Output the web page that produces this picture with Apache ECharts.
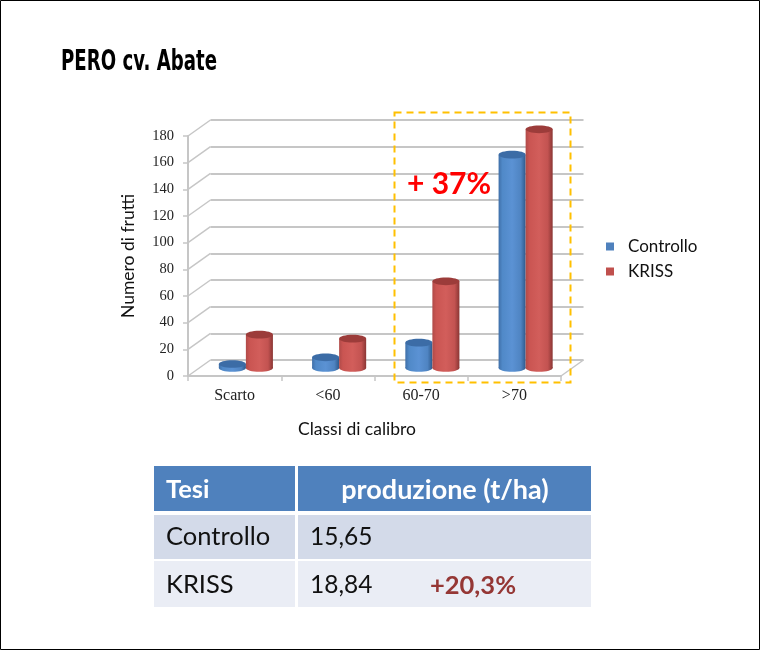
<!DOCTYPE html>
<html>
<head>
<meta charset="utf-8">
<style>html,body{margin:0;padding:0;background:#fff}#c{width:760px;height:650px}</style>
<script src="https://cdn.jsdelivr.net/npm/echarts@6/dist/echarts.min.js"></script>
</head>
<body>
<div id="c"></div>
<script>
const categories = ['Scarto', '<60', '60-70', '>70'];
const controllo = [3, 8, 19, 160];
const kriss = [25, 22, 65, 179];
const yTicks = [0, 20, 40, 60, 80, 100, 120, 140, 160, 180];
const seriesNames = ['Controllo', 'KRISS'];
const tableHeader = ['Tesi', 'produzione (t/ha)'];
const tableTesi = ['Controllo', 'KRISS'];
const tableProduzione = ['15,65', '18,84'];
const tableDelta = '+20,3%';
const highlight = '+ 37%';
const title = 'PERO cv. Abate';

const BODY = 'Lato, "Open Sans", sans-serif';
const GRID = '#c6c6c6';
const DX = 22.5, DY = -16;

const blueBody = {type:'linear',x:0,y:0,x2:1,y2:0,colorStops:[
  {offset:0,color:'#3f6fa8'},{offset:.14,color:'#5089c8'},{offset:.5,color:'#5b92d4'},
  {offset:.82,color:'#4f84c2'},{offset:1,color:'#2f5a8c'}]};
const redBody = {type:'linear',x:0,y:0,x2:1,y2:0,colorStops:[
  {offset:0,color:'#b04a48'},{offset:.14,color:'#ca5552'},{offset:.5,color:'#d25e5b'},
  {offset:.82,color:'#c35351'},{offset:1,color:'#8a3634'}]};

function cylinder(side, body, top) {
  return function (params, api) {
    const i = api.value(0), v = api.value(1);
    const p = api.coord([i, v]), base = api.coord([i, 0]);
    const w = api.size([1, 0])[0] * 0.29;
    const cx = p[0] + DX / 2 + side * w / 2;
    const yT = p[1] + DY / 2, yB = base[1] + DY / 2;
    const rx = w / 2, ry = 3.8;
    return {type:'group', children:[
      {type:'ellipse', shape:{cx:cx, cy:yB, rx:rx, ry:ry}, style:{fill:body}},
      {type:'rect', shape:{x:cx-rx, y:yT, width:w, height:yB-yT}, style:{fill:body}},
      {type:'ellipse', shape:{cx:cx, cy:yT, rx:rx, ry:ry}, style:{fill:top}}
    ]};
  };
}

function wallDiagonals(params, api) {
  const v = api.value(0);
  const cs = params.coordSys;
  const y = api.coord([0, v])[1];
  const x = cs.x;
  const children = [{type:'line', shape:{x1:x, y1:y, x2:x+DX, y2:y+DY}, style:{stroke:GRID, lineWidth:1.5}}];
  if (v === 0) children.push({type:'line', shape:{x1:x+cs.width, y1:y, x2:x+cs.width+DX, y2:y+DY}, style:{stroke:GRID, lineWidth:1.5}});
  return {type:'group', children};
}

const graphics = [];
const rect = (x,y,w,h,fill) => graphics.push({type:'rect', shape:{x,y,width:w,height:h}, style:{fill}, z:1});
const label = (x,y,text,size,fill,weight,align) => graphics.push({type:'text', x, y, z:2,
  style:{text, fill, font:(weight||'normal')+' '+size+'px '+BODY, textAlign:align||'left', textVerticalAlign:'middle'}});

// page frame
graphics.push({type:'rect', shape:{x:.5,y:.5,width:759,height:649}, style:{fill:'none',stroke:'#000',lineWidth:1}, z:5});
// title
graphics.push({type:'text', x:61, y:63, z:2, scaleX:0.66, style:{text:title, fill:'#000',
  font:'bold 27.5px "DejaVu Sans", sans-serif', textVerticalAlign:'middle'}});
// dashed highlight box
graphics.push({type:'rect', shape:{x:394.5,y:112.5,width:176,height:270}, z:4,
  style:{fill:'none', stroke:'#ffc000', lineWidth:2, lineDash:[7,5]}});
graphics.push({type:'text', x:407, y:184, z:4, style:{text:highlight, fill:'#ff0000',
  font:'bold 30px '+BODY, textVerticalAlign:'middle'}});
// table
rect(154,466,141,45,'#4f81bd'); rect(298,466,293,45,'#4f81bd');
rect(154,515,141,44,'#d3dae9'); rect(298,515,293,44,'#d3dae9');
rect(154,561,141,46,'#eaedf5'); rect(298,561,293,46,'#eaedf5');
label(166,490,tableHeader[0],25.5,'#fff','bold');
label(445,490,tableHeader[1],27,'#fff','bold','center');
tableTesi.forEach((t,i)=>{ const y=[537,585][i];
  label(166,y,t,25.5,'#111'); label(310,y,tableProduzione[i],24.5,'#111'); });
label(430,586,tableDelta,25.5,'#953735','bold');

const chart = echarts.init(document.getElementById('c'), null, {renderer:'canvas'});
chart.setOption({
  animation:false,
  backgroundColor:'#fff',
  legend:{orient:'vertical', left:601, top:233, itemWidth:8, itemHeight:8, itemGap:8, icon:'rect',
    data:seriesNames, textStyle:{fontFamily:BODY, fontSize:17, color:'#111', padding:[0,0,0,9]}},
  grid:[
    {left:188, top:136, width:373, height:240},
    {left:188+DX, top:136+DY, width:373, height:240}
  ],
  xAxis:[
    {type:'category', gridIndex:0, data:categories,
     axisLine:{lineStyle:{color:GRID,width:2}}, axisTick:{show:true,length:5,lineStyle:{color:GRID,width:1.5}},
     axisLabel:{fontFamily:'"Liberation Serif", serif', fontSize:16, color:'#222', margin:12},
     name:'Classi di calibro', nameLocation:'middle', nameGap:44,
     nameTextStyle:{fontFamily:BODY, fontSize:17.5, color:'#111', padding:[0,35,0,0]}},
    {type:'category', gridIndex:1, data:categories, show:false}
  ],
  yAxis:[
    {type:'value', gridIndex:0, min:0, max:180, interval:20, splitLine:{show:false},
     axisLine:{show:true,lineStyle:{color:GRID,width:2}}, axisTick:{show:true,length:5,lineStyle:{color:GRID,width:1.5}},
     axisLabel:{fontFamily:'"Liberation Serif", serif', fontSize:14.5, color:'#222', margin:14},
     name:'Numero di frutti', nameLocation:'middle', nameGap:51,
     nameTextStyle:{fontFamily:BODY, fontSize:17.5, color:'#111'}},
    {type:'value', gridIndex:1, min:0, max:180, interval:20,
     axisLine:{show:false}, axisTick:{show:false}, axisLabel:{show:false},
     splitLine:{show:true,lineStyle:{color:GRID,width:2}}}
  ],
  graphic:graphics,
  series:[
    {type:'custom', name:'walls', xAxisIndex:0, yAxisIndex:0, silent:true, clip:false,
     data:yTicks.map(v=>[v]), encode:{y:0}, renderItem:wallDiagonals, z:1},
    {type:'custom', name:seriesNames[0], xAxisIndex:0, yAxisIndex:0, clip:false,
     itemStyle:{color:'#4f81bd'}, encode:{x:0,y:1}, z:3,
     data:controllo.map((v,i)=>[i,v]), renderItem:cylinder(-1,blueBody,'#3c6ca6')},
    {type:'custom', name:seriesNames[1], xAxisIndex:0, yAxisIndex:0, clip:false,
     itemStyle:{color:'#c0504d'}, encode:{x:0,y:1}, z:3,
     data:kriss.map((v,i)=>[i,v]), renderItem:cylinder(1,redBody,'#9c3c3a')}
  ]
});
</script>
</body>
</html>
